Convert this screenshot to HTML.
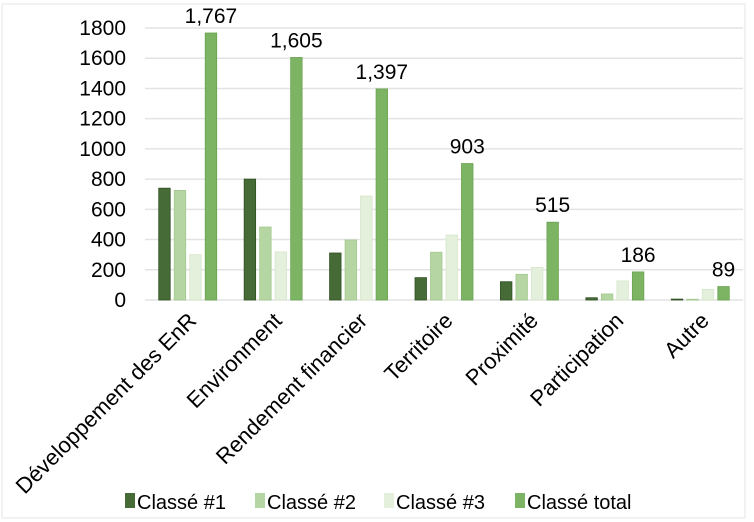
<!DOCTYPE html>
<html><head><meta charset="utf-8"><style>
html,body{margin:0;padding:0;background:#fff}
svg{display:block;font-family:"Liberation Sans",sans-serif}
</style></head><body>
<svg id="chart" width="754" height="522">
<rect x="2" y="4" width="743" height="514" fill="#fff" stroke="#e6e6e6"/>
<g id="grid"></g><g id="yticks"></g><g id="bars"></g><g id="labels"></g><g id="xlabels"></g>
<g font-size="20" fill="#000">
 <rect x="125" y="493" width="10" height="15" fill="#466b36"/>
 <text x="137" y="509">Classé #1</text>
 <rect x="255" y="493" width="10" height="15" fill="#b5d6a2"/>
 <text x="267" y="509">Classé #2</text>
 <rect x="384" y="493" width="10" height="15" fill="#e4f0dc"/>
 <text x="396" y="509">Classé #3</text>
 <rect x="515" y="493" width="10" height="15" fill="#7cb463"/>
 <text x="527" y="509">Classé total</text>
</g>
</svg>
<script>
const categories=["Développement des EnR","Environment","Rendement financier","Territoire","Proximité","Participation","Autre"];
const classe1=[740,800,311,148,121,15,6];
const classe2=[725,483,397,316,170,40,5];
const classe3=[300,318,688,430,216,126,70];
const classeTotal=[1767,1605,1397,903,515,186,89];
const totalLabels=["1,767","1,605","1,397","903","515","186","89"];
const yTicks=[0,200,400,600,800,1000,1200,1400,1600,1800];
const NS="http://www.w3.org/2000/svg";
const x0=145,x1=743,y0=300,yTop=28,ymax=1800;
const yS=v=>y0-(v/ymax)*(y0-yTop);
const gw=(x1-x0)/categories.length;
const xC=i=>x0+gw*(i+0.5);
function mk(tag,attrs,parent){const e=document.createElementNS(NS,tag);for(const k in attrs)e.setAttribute(k,attrs[k]);parent.appendChild(e);return e;}
const grid=document.getElementById('grid'),yt=document.getElementById('yticks');
yTicks.forEach(t=>{
 const l=mk('line',{x1:x0,x2:x1,y1:yS(t),y2:yS(t),stroke:'#e3e3e3','stroke-width':1.5},grid);
 
 
 const tx=mk('text',{x:126,y:yS(t)+7,'text-anchor':'end','font-size':21,fill:'#000'},yt);
 tx.textContent=t;
 
 
});
const series=[classe1,classe2,classe3,classeTotal];
const colors=['#466b36','#b5d6a2','#e4f0dc','#7cb463'];
const strokes=['#2f5022','#a3c98e','#d6e6cc','#6aa451'];
const bw=11.5,step=15.5;
const bars=document.getElementById('bars');
categories.forEach((c,i)=>{
 series.forEach((s,j)=>{
  const x=xC(i)-2*step+j*step+(step-bw)/2;
  const r=mk('rect',{x:x,y:yS(s[i]),width:bw,height:Math.max(0,y0-yS(s[i])),fill:colors[j],stroke:strokes[j],'stroke-width':0.8},bars);
  
  
 });
 const x=xC(i)-2*step+3*step+step/2;
 const t=mk('text',{x:x,y:yS(classeTotal[i])-10,'text-anchor':'middle','font-size':21,fill:'#000'},document.getElementById('labels'));
 t.textContent=totalLabels[i];
 
 
});
const xl=document.getElementById('xlabels');
categories.forEach((c,i)=>{
 const ex=xC(i)+10,ey=322;
 const t=mk('text',{x:ex,y:ey,'text-anchor':'end','font-size':22,fill:'#000',transform:`rotate(-45 ${ex} ${ey})`},xl);
 t.textContent=c;
 
 
});
</script>
</body></html>
